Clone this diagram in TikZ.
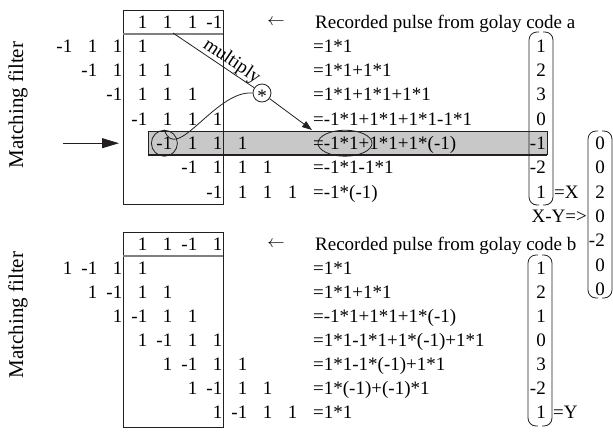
\documentclass[tikz,border=0pt]{standalone}
\usepackage{fontspec}
\setmainfont{Liberation Serif}
\usetikzlibrary{arrows.meta,shapes.geometric}
\definecolor{bandgray}{RGB}{200,200,200}
\definecolor{ink}{RGB}{35,31,32}
\newcommand\figfont{\fontsize{19}{23}\selectfont}
% one row of the sliding filter: prefix, row centre y, first column, entries
\newcommand\mrow[4]{%
  \foreach \v [count=\i] in {#4} {%
    \node[num] (#1-\i) at ({147.5+25*(#3+\i-1)}, {#2+6.3}) {\v};}}
% a tall vector bracket pair: left x, right x, top y, bottom y
\newcommand\vbrack[4]{%
  \draw[line, rounded corners=8pt] ({#1+10},#3) -- (#1,#3) -- (#1,#4) -- ({#1+10},#4);
  \draw[line, rounded corners=8pt] ({#2-10},#3) -- (#2,#3) -- (#2,#4) -- ({#2-10},#4);}

\begin{document}
\begin{tikzpicture}[x=1pt,y=-1pt,
  num/.style={anchor=base east,inner sep=0pt,font=\figfont},
  txt/.style={anchor=base west,inner sep=0pt,font=\figfont},
  line/.style={draw=ink,line width=0.8pt},
  side/.style={rotate=90,inner sep=0pt,font=\fontsize{21}{25}\selectfont}]
\useasboundingbox (0,0) rectangle (613,432);

% highlighted row
\fill[bandgray] (148,131) rectangle (547,155);
\draw[ink,line width=0.6pt] (148,155) -- (148,131) -- (547,131) -- (547,155);
\draw[ink,line width=2.4pt] (148,155) -- (547,155);

% filter windows
\draw[line] (123,10) rectangle (223,204);
\draw[gray,line width=1.3pt] (123,34) -- (223,34);
\draw[line] (123,232) rectangle (223,427);
\draw[gray,line width=1.3pt] (123,256) -- (223,256);

% side labels
\node[side] (mfa) at (18,105) {Matching filter};
\node[side] (mfb) at (18,315) {Matching filter};

% code a
\mrow{ta0}{22}{0}{1,1,1,-1}
\mrow{ta1}{46}{-3}{-1,1,1,1}
\mrow{ta2}{70.3}{-2}{-1,1,1,1}
\mrow{ta3}{94.6}{-1}{-1,1,1,1}
\mrow{ta4}{118.9}{0}{-1,1,1,1}
\mrow{ta5}{143.2}{1}{-1,1,1,1}
\mrow{ta6}{167.5}{2}{-1,1,1,1}
\mrow{ta7}{191.8}{3}{-1,1,1,1}

% code b
\mrow{tb0}{244}{0}{1,1,-1,1}
\mrow{tb1}{268}{-3}{1,-1,1,1}
\mrow{tb2}{292.1}{-2}{1,-1,1,1}
\mrow{tb3}{316.2}{-1}{1,-1,1,1}
\mrow{tb4}{340.3}{0}{1,-1,1,1}
\mrow{tb5}{364.4}{1}{1,-1,1,1}
\mrow{tb6}{388.5}{2}{1,-1,1,1}
\mrow{tb7}{412.6}{3}{1,-1,1,1}

% headings
\node[inner sep=0pt,font=\figfont] (arra) at (276,22) {$\leftarrow$};
\node[txt] (heada) at (315,28.3) {Recorded pulse from golay code a};
\node[inner sep=0pt,font=\figfont] (arrb) at (276,244) {$\leftarrow$};
\node[txt] (headb) at (315,250.3) {Recorded pulse from golay code b};

% products, code a
\foreach \e [count=\k] in {{=1*1},{=1*1+1*1},{=1*1+1*1+1*1},{=-1*1+1*1+1*1-1*1},
    {=-1*1+1*1+1*(-1)},{=-1*1-1*1},{=-1*(-1)}}
  \node[txt] (ea\k) at (313,{46+24.3*(\k-1)+6.3}) {\e};
% products, code b
\foreach \e [count=\k] in {{=1*1},{=1*1+1*1},{=-1*1+1*1+1*(-1)},{=1*1-1*1+1*(-1)+1*1},
    {=1*1-1*(-1)+1*1},{=1*(-1)+(-1)*1},{=1*1}}
  \node[txt] (eb\k) at (313,{268+24.1*(\k-1)+6.3}) {\e};

% result vectors
\foreach \v [count=\k] in {1,2,3,0,-1,-2,1}
  \node[num] (xa\k) at (546,{46+24.3*(\k-1)+6.3}) {\v};
\foreach \v [count=\k] in {1,2,1,0,3,-2,1}
  \node[num] (yb\k) at (546,{268+24.1*(\k-1)+6.3}) {\v};
\foreach \v [count=\k] in {0,0,2,0,-2,0,0}
  \node[num] (dd\k) at (605,{143.2+24.3*(\k-1)+6.3}) {\v};
\vbrack{529}{553}{32}{205}
\vbrack{528}{552}{255}{426}
\vbrack{588}{612}{131}{298}
\node[txt] (eqx) at (554,198.1) {=X};
\node[txt] (eqy) at (553,418.9) {=Y};
\node[num] (xmy) at (587,222.4) {X-Y=>};

% multiply illustration
\node[circle,draw=ink,line width=0.8pt,minimum size=26pt,inner sep=0pt] (c1) at (ta5-1.center) {};
\node[ellipse,draw=ink,line width=0.8pt,minimum width=54pt,minimum height=26pt,inner sep=0pt] (e1) at (345,143.2) {};
\node[circle,draw=ink,line width=0.8pt,minimum size=18pt,inner sep=0pt] (star) at (262,93) {};
\node[anchor=base,inner sep=0pt,font=\figfont] (ast) at (262,102.3) {*};
\coordinate (mstart) at (173,33);
\coordinate (tip) at (312,130);
\draw[line] (mstart) -- node[sloped,above,pos=0.66,inner sep=0pt,font=\figfont] {multiply} (star);
\draw[line,-{Triangle[length=10pt,width=7pt]}] (star) -- (tip);
\draw[line] (star.west) to[out=175,in=-72] (c1.north);

% input arrow
\coordinate (inbeg) at (63,143.2);
\coordinate (inend) at (119,143.2);
\draw[line,-{Triangle[length=17pt,width=10pt]}] (inbeg) -- (inend);
\end{tikzpicture}
\end{document}
